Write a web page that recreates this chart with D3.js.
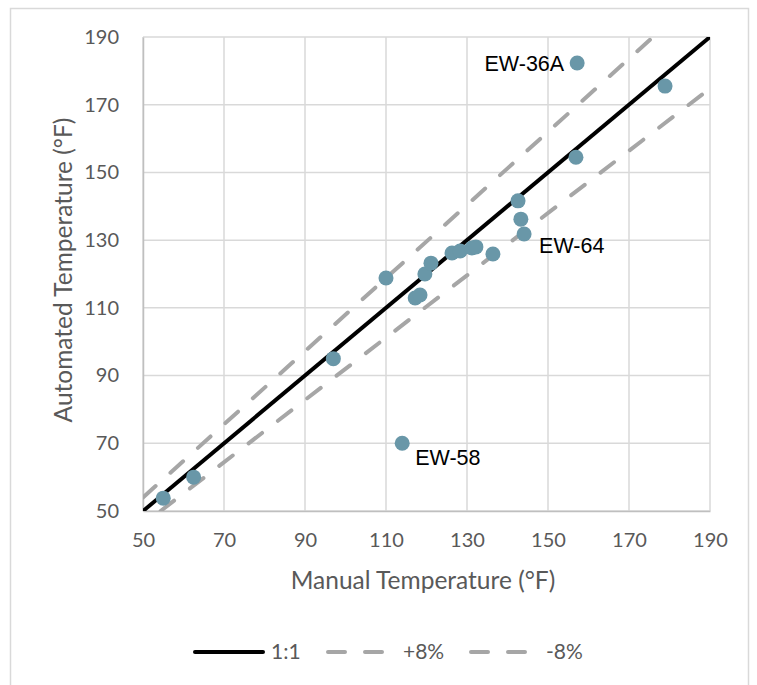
<!DOCTYPE html>
<html>
<head>
<meta charset="utf-8">
<script src="https://cdn.jsdelivr.net/npm/d3@7"></script>
<style>
    body { margin: 0; background: #fff; }
    svg { display: block; }
</style>
</head>
<body>
<div id="chart-area"></div>
<script>
// Manual vs automated readings (deg F)
var manualTemps = [55, 62.5, 97, 110, 114, 117.2, 118.4, 119.6, 121.1, 126.3, 128.3,
    131.2, 132.2, 136.4, 142.6, 143.3, 144.1, 156.9, 157.2, 178.9];
var autoTemps = [53.8, 60, 95, 118.8, 70, 112.9, 113.8, 120, 123.2, 126.2, 126.8,
    127.7, 128, 125.9, 141.6, 136.2, 131.8, 154.5, 182.3, 175.5];

// labelled outliers
var labelNames = ["EW-36A", "EW-64", "EW-58"];
var labelX = [157.2, 144.1, 114];
var labelY = [182.3, 131.8, 70];

var tickValues = [50, 70, 90, 110, 130, 150, 170, 190];
var refNames = ["1:1", "+8%", "-8%"];
var refFactors = [1, 1.08, 0.92];

var margin = { left: 143, right: 47, top: 37, bottom: 174 };
var width = 757 - margin.left - margin.right,
    height = 685 - margin.top - margin.bottom;

var svg = d3.select("#chart-area")
    .append("svg")
    .attr("width", 757)
    .attr("height", 685);

// outer chart frame
svg.append("rect")
    .attr("x", 10.5).attr("y", 8.5)
    .attr("width", 738).attr("height", 700)
    .attr("fill", "none")
    .attr("stroke", "#d9d9d9")
    .attr("stroke-width", 1.5);

var g = svg.append("g")
    .attr("transform", "translate(" + margin.left + ", " + margin.top + ")");

var x = d3.scaleLinear().domain([50, 190]).range([0, width]);
var y = d3.scaleLinear().domain([50, 190]).range([height, 0]);

// gridlines
g.append("g")
    .selectAll("line.vgrid")
    .data(tickValues)
    .enter().append("line")
    .attr("x1", function (d) { return x(d); })
    .attr("x2", function (d) { return x(d); })
    .attr("y1", 0).attr("y2", height)
    .attr("stroke", "#d9d9d9").attr("stroke-width", 1.5);

g.append("g")
    .selectAll("line.hgrid")
    .data(tickValues)
    .enter().append("line")
    .attr("y1", function (d) { return y(d); })
    .attr("y2", function (d) { return y(d); })
    .attr("x1", 0).attr("x2", width)
    .attr("stroke", "#d9d9d9").attr("stroke-width", 1.5);

// axes (labels only, Excel style)
var xAxisCall = d3.axisBottom(x).tickValues(tickValues).tickSize(0).tickPadding(22);
var xAxis = g.append("g")
    .attr("class", "x axis")
    .attr("transform", "translate(0, " + height + ")")
    .call(xAxisCall);
xAxis.select(".domain").attr("stroke", "#bfbfbf").attr("stroke-width", 1.5);
xAxis.selectAll("text")
    .attr("font-family", "Lato, sans-serif")
    .attr("font-size", "20px")
    .attr("fill", "#595959");

var yAxisCall = d3.axisLeft(y).tickValues(tickValues).tickSize(0).tickPadding(24);
var yAxis = g.append("g")
    .attr("class", "y axis")
    .call(yAxisCall);
yAxis.select(".domain").attr("stroke", "#bfbfbf").attr("stroke-width", 1.5);
yAxis.selectAll("text")
    .attr("font-family", "Lato, sans-serif")
    .attr("font-size", "20px")
    .attr("fill", "#595959");

// axis titles
svg.append("text")
    .attr("x", 423)
    .attr("y", 589)
    .attr("font-family", "Lato, sans-serif")
    .attr("font-size", "24.5px")
    .attr("fill", "#595959")
    .attr("text-anchor", "middle")
    .text("Manual Temperature (°F)");

svg.append("text")
    .attr("x", -270)
    .attr("y", 72)
    .attr("font-family", "Lato, sans-serif")
    .attr("font-size", "24.5px")
    .attr("fill", "#595959")
    .attr("text-anchor", "middle")
    .attr("transform", "rotate(-90)")
    .text("Automated Temperature (°F)");

// reference lines, clipped to plot area
svg.append("clipPath").attr("id", "plot-clip")
    .append("rect").attr("width", width).attr("height", height);

var refStyle = [
    { color: "#000", dash: null },
    { color: "#a6a6a6", dash: "17 20" },
    { color: "#a6a6a6", dash: "17 20" }
];

var line = d3.line()
    .x(function (d) { return x(d[0]); })
    .y(function (d) { return y(d[1]); });

var refG = g.append("g").attr("clip-path", "url(#plot-clip)");
refFactors.forEach(function (f, i) {
    // start where the line enters the plot from the bottom
    var x0 = Math.max(50, 50 / f);
    var x1 = Math.min(190, 190 / f);
    refG.append("path")
        .datum([[x0, x0 * f], [x1, x1 * f]])
        .attr("d", line)
        .attr("fill", "none")
        .attr("stroke", refStyle[i].color)
        .attr("stroke-width", 4)
        .attr("stroke-linecap", i === 0 ? "butt" : "round")
        .attr("stroke-dasharray", refStyle[i].dash);
});

// data points
var points = manualTemps.map(function (d, i) { return [d, autoTemps[i]]; });
g.selectAll("circle")
    .data(points)
    .enter().append("circle")
    .attr("cx", function (d) { return x(d[0]); })
    .attr("cy", function (d) { return y(d[1]); })
    .attr("r", 7.5)
    .attr("fill", "#6997a8");

// outlier labels
var labelOffsets = [[-13, 8, "end"], [15, 19, "start"], [13, 22, "start"]];
labelNames.forEach(function (name, i) {
    g.append("text")
        .attr("x", x(labelX[i]) + labelOffsets[i][0])
        .attr("y", y(labelY[i]) + labelOffsets[i][1])
        .attr("text-anchor", labelOffsets[i][2])
        .attr("font-family", "Liberation Sans, Arial, sans-serif")
        .attr("font-size", "21.5px")
        .attr("fill", "#000")
        .text(name);
});

// legend
var legendX = [193, 326, 469];
var legend = svg.append("g").attr("transform", "translate(0, 652)");
refNames.forEach(function (name, i) {
    legend.append("line")
        .attr("x1", legendX[i] + 2).attr("x2", legendX[i] + (i === 0 ? 70 : 57))
        .attr("y1", 0).attr("y2", 0)
        .attr("stroke", refStyle[i].color)
        .attr("stroke-width", 4)
        .attr("stroke-linecap", "round")
        .attr("stroke-dasharray", i === 0 ? null : "17 20");
    legend.append("text")
        .attr("x", legendX[i] + (i === 0 ? 78 : 77))
        .attr("y", 7)
        .attr("font-family", "Lato, sans-serif")
        .attr("font-size", "21px")
        .attr("fill", "#595959")
        .text(name);
});
</script>
</body>
</html>
